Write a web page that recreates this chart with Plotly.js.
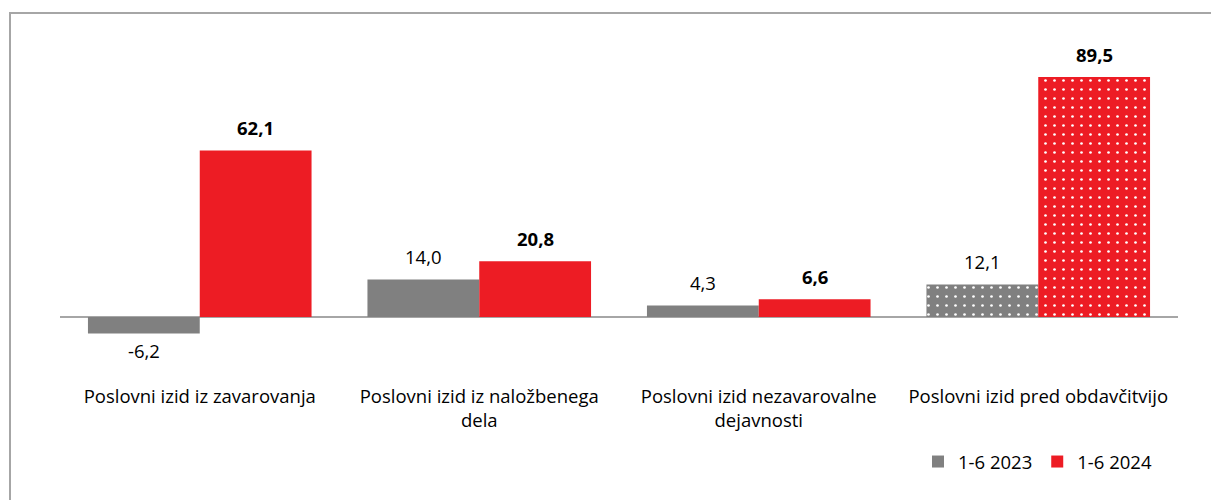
<!DOCTYPE html>
<html>
<head>
<meta charset="utf-8">
<script src="https://cdn.plot.ly/plotly-3.0.1.min.js"></script>
<style>
  html, body { margin: 0; padding: 0; background: #fff; }
  #chart { width: 1211px; height: 500px; }
</style>
</head>
<body>
<div id="chart"></div>
<script>
// data
const categories = [
    "Poslovni izid iz zavarovanja",
    "Poslovni izid iz naložbenega<br>dela",
    "Poslovni izid nezavarovalne<br>dejavnosti",
    "Poslovni izid pred obdavčitvijo"
];
const seriesNames = ["1-6 2023", "1-6 2024"];
const values2023 = [-6.2, 14.0, 4.3, 12.1];
const values2024 = [62.1, 20.8, 6.6, 89.5];
const patterns = ["", "", "", "."];

const W = 1211, H = 500;
const M = { l: 60, r: 33, t: 40, b: 122 };
const plotW = W - M.l - M.r;
const plotH = H - M.t - M.b;
const BARGAP = 0.2;
const GRAY = "#808080", RED = "#ED1C24";
const FONT = "Open Sans, Noto Sans, sans-serif";
const FS = 18.5;

// px -> paper helpers (for the frame + legend)
const px2x = p => (p - M.l) / plotW;
const px2y = p => (H - M.b - p) / plotH;

function fmt(v) {
    return v.toFixed(1).replace(".", ",");
}

function barTrace(name, vals, color) {
    return {
        type: "bar",
        name: name,
        x: categories,
        y: vals,
        marker: {
            color: color,
            line: { width: 0 },
            pattern: { shape: patterns, fgcolor: "#ffffff", bgcolor: color, size: 9, solidity: 0.07 }
        },
        hoverinfo: "skip"
    };
}

// value labels as annotations, shifted onto each bar of the group
const barPx = plotW / categories.length * (1 - BARGAP) / 2;
const annotations = [];
[[values2023, -1, false], [values2024, 1, true]].forEach(([vals, side, bold]) => {
    vals.forEach((v, i) => {
        annotations.push({
            x: categories[i], y: v, xref: "x", yref: "y",
            text: bold ? "<b>" + fmt(v) + "</b>" : fmt(v),
            showarrow: false,
            xshift: side * barPx / 2,
            yshift: v >= 0 ? 23 : -17,
            yanchor: "middle",
            font: { family: FONT, size: FS, color: "#000" }
        });
    });
});

const layout = {
    width: W, height: H,
    margin: M,
    paper_bgcolor: "#fff",
    plot_bgcolor: "#fff",
    barmode: "group",
    bargap: BARGAP,
    bargroupgap: 0,
    separators: ",.",
    showlegend: true,
    font: { family: FONT, size: FS, color: "#000" },
    xaxis: {
        showgrid: false, showline: false, ticks: "",
        tickfont: { family: FONT, size: FS, color: "#000" },
        ticklabelstandoff: 5,
        fixedrange: true
    },
    yaxis: {
        range: [-22.75, 103.3],
        showgrid: false, showticklabels: false, ticks: "",
        zeroline: true, zerolinecolor: "#a6a6a6", zerolinewidth: 2,
        fixedrange: true
    },
    legend: {
        orientation: "h",
        x: px2x(1157), xanchor: "right",
        y: px2y(462), yanchor: "middle",
        font: { family: FONT, size: FS, color: "#000" },
        itemwidth: 30,
        traceorder: "normal"
    },
    annotations: annotations,
    shapes: [
        { type: "line", xref: "paper", yref: "paper",
          x0: px2x(10), x1: px2x(10), y0: px2y(H + 5), y1: px2y(13),
          line: { color: "#a6a6a6", width: 2 } },
        { type: "line", xref: "paper", yref: "paper",
          x0: px2x(9), x1: px2x(W + 5), y0: px2y(13), y1: px2y(13),
          line: { color: "#a6a6a6", width: 2 } }
    ]
};

Plotly.newPlot("chart", [
    barTrace(seriesNames[0], values2023, GRAY),
    barTrace(seriesNames[1], values2024, RED)
], layout, { displayModeBar: false, staticPlot: true });
</script>
</body>
</html>
